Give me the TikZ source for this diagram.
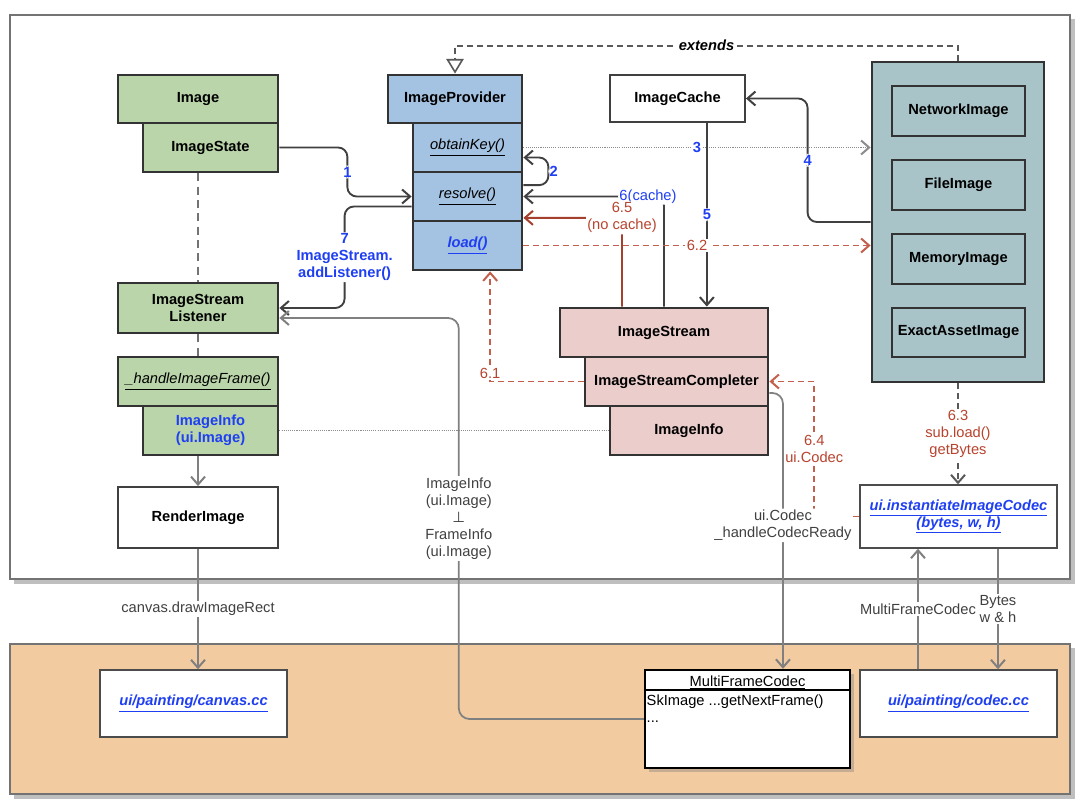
\documentclass[tikz,border=0pt]{standalone}
\usepackage{fontspec}
\setmainfont{Liberation Sans}
\newfontfamily\symfont{DejaVu Sans}
\usetikzlibrary{arrows.meta,positioning,shadows}

\definecolor{imggreen}{HTML}{B9D5A9}
\definecolor{provblue}{HTML}{A4C2E1}
\definecolor{subteal}{HTML}{A8C4C8}
\definecolor{streampink}{HTML}{EBCDCB}
\definecolor{enginepeach}{HTML}{F2CBA1}
\definecolor{stepblue}{HTML}{1F3FF2}
\definecolor{redtext}{HTML}{B8432E}
\definecolor{redarrow}{HTML}{A5402F}

\begin{document}
\begin{tikzpicture}[x=0.75pt, y=-0.75pt,
    >={Straight Barb[length=6pt,width=10.5pt,line width=1.5pt]},
    txt/.style={font=\fontsize{11}{12.8}\selectfont},
    boxsize/.style 2 args={minimum width=#1*0.75pt, minimum height=#2*0.75pt},
    cls/.style={draw=black!80, line width=2.1pt, align=center, inner sep=0pt,
        font=\fontsize{11}{12.8}\selectfont\bfseries},
    method/.style={font=\fontsize{11}{12.8}\selectfont\itshape},
    plain/.style={draw=black!75, line width=1.4pt, fill=white, align=center,
        inner sep=0pt, font=\fontsize{11}{12.8}\selectfont\bfseries},
    linkbox/.style={draw=black!70, line width=1.1pt, fill=white, align=center,
        inner sep=0pt, text=stepblue, font=\fontsize{11}{12.8}\selectfont\bfseries\itshape},
    call/.style={draw=black!75, line width=1.4pt, rounded corners=7pt, ->},
    flow/.style={draw=black!50, line width=1.3pt, ->},
    dotline/.style={draw=black!45, line width=1.3pt, dash pattern=on 0.8pt off 0.8pt},
    lifeline/.style={draw=black!55, line width=1.5pt, dash pattern=on 6pt off 4pt},
    reddash/.style={draw=redtext!85, line width=1.4pt, dash pattern=on 4.5pt off 3pt},
    graydash/.style={draw=black!65, line width=1.4pt, dash pattern=on 4.5pt off 3pt},
    steplbl/.style={txt, fill=white, text=stepblue, font=\fontsize{11}{12.8}\selectfont\bfseries,
        align=center, inner sep=1pt},
    cachelbl/.style={txt, fill=white, text=stepblue, align=center, inner sep=1pt},
    redlbl/.style={txt, fill=white, text=redtext, align=center, inner sep=1pt},
    graylbl/.style={txt, fill=white, text=black!75, align=center, inner sep=1pt}]

    \useasboundingbox (0,0) rectangle (1080,810);

    % the two layers
    \fill[black!25] (14,19) rectangle (1075,584);
    \draw[draw=black!55, line width=1.3pt, fill=white] (10,15) rectangle (1070,579);
    \fill[black!25] (14,648) rectangle (1075,799);
    \draw[draw=black!55, line width=1.3pt, fill=enginepeach] (10,644) rectangle (1070,794);

    % widget side
    \node [cls, fill=imggreen, boxsize={160}{48}] (Image) at (198,99) {Image};
    \node [cls, fill=imggreen, boxsize={135}{49}] (ImageState) at (210.5,147.5) {ImageState};
    \node [cls, fill=imggreen, boxsize={160}{50}] (Listener) at (198,308) {ImageStream\\Listener};
    \node [cls, fill=imggreen, boxsize={160}{49}, method] (HandleFrame) at (198,381.5) {\underline{\_handleImageFrame()}};
    \node [cls, fill=imggreen, boxsize={135}{49}, text=stepblue] (FrameInfo) at (210.5,430.5) {ImageInfo\\(ui.Image)};
    \node [plain, boxsize={160}{61}] (RenderImage) at (198,517.5) {RenderImage};

    % provider
    \node [cls, fill=provblue, boxsize={134}{48}] (ImageProvider) at (455,99) {ImageProvider};
    \node [cls, fill=provblue, boxsize={109}{49}, method] (ObtainKey) at (467.5,147.5) {\underline{obtainKey()}};
    \node [cls, fill=provblue, boxsize={109}{49}, method] (Resolve) at (467.5,196.5) {\underline{resolve()}};
    \node [cls, fill=provblue, boxsize={109}{49}, text=stepblue, font=\fontsize{11}{12.8}\selectfont\bfseries\itshape] (Load) at (467.5,245.5) {\underline{load()}};

    \node [plain, boxsize={135}{47}] (ImageCache) at (677.5,98.5) {ImageCache};

    % sub classes
    \node [cls, fill=subteal, boxsize={172}{320}] (Providers) at (958,222) {};
    \node [cls, fill=subteal, boxsize={133}{50}] (Network) at (958.5,111) {NetworkImage};
    \node [cls, fill=subteal, boxsize={133}{50}] (File) at (958.5,185) {FileImage};
    \node [cls, fill=subteal, boxsize={133}{50}] (Memory) at (958.5,259) {MemoryImage};
    \node [cls, fill=subteal, boxsize={133}{49}] (ExactAsset) at (958.5,332.5) {ExactAssetImage};

    % stream
    \node [cls, fill=streampink, boxsize={208}{49}] (ImageStream) at (664,332.5) {ImageStream};
    \node [cls, fill=streampink, boxsize={183}{49}] (Completer) at (676.5,381.5) {ImageStreamCompleter};
    \node [cls, fill=streampink, boxsize={158}{49}] (StreamInfo) at (689,430.5) {ImageInfo};

    \node [linkbox, boxsize={197}{63}] (Instantiate) at (958.5,516.5) {\underline{ui.instantiateImageCodec}\\\underline{(bytes, w, h)}};

    % engine
    \node [linkbox, boxsize={187}{67}] (CanvasCC) at (193.5,703.5) {\underline{ui/painting/canvas.cc}};
    \node [linkbox, boxsize={197}{67}] (CodecCC) at (958.5,703.5) {\underline{ui/painting/codec.cc}};
    \node [draw=black, line width=1.8pt, fill=white, boxsize={205}{98},
        drop shadow={shadow xshift=3pt, shadow yshift=-3pt, opacity=.4}] (MFC) at (747.5,719) {};
    \draw [line width=1.5pt] ([yshift=-16pt]MFC.north west) -- ([yshift=-16pt]MFC.north east);
    \node [txt, below=1.5pt of MFC.north] (MFCHead) {\underline{MultiFrameCodec}};
    \node [txt, align=left, anchor=north west, inner sep=1pt] (MFCBody) at ([shift={(1pt,-18pt)}]MFC.north west) {SkImage ...getNextFrame()\\...};

    % extends
    \draw [graydash, -{Triangle[open, length=11pt, width=13pt, line width=1.2pt]}] (Providers.north) -- ++(0,-15) -| node[pos=.25, fill=white, inner sep=1pt, font=\fontsize{11}{12.8}\selectfont\bfseries\itshape] {extends} (ImageProvider.north);

    % life lines
    \draw [lifeline] (Image.south |- ImageState.south) -- (Listener.north);
    \draw [lifeline] (Listener.south) -- (HandleFrame.north);
    \draw [flow] (Image.south |- FrameInfo.south) -- (RenderImage.north);
    \draw [dotline] (FrameInfo.east) -- (StreamInfo.west);

    % numbered calls
    \draw [call] (ImageState.east) -- ++(68,0) |- node[steplbl, pos=.25] {1} (Resolve.west);
    \draw [call] ([yshift=8.5pt]Resolve.east) -- ++(25,0) |- node[steplbl, pos=.25, xshift=4pt] {2} ([yshift=-7.5pt]ObtainKey.east);
    \draw [dotline, ->] (ObtainKey.east) -- node[steplbl] {3} (ObtainKey.east -| Providers.west);
    \draw [call] (Providers.west) -- ++(-63,0) |- node[steplbl, pos=.25] {4} (ImageCache.east);
    \draw [call] ([xshift=22pt]ImageCache.south) -- node[steplbl] {5} ([xshift=22pt]ImageCache.south |- ImageStream.north);
    \draw [call] (ImageStream.north) |- node[cachelbl, pos=.5, xshift=-12pt] {6(cache)} (Resolve.east);
    \draw [call, draw=redarrow] ([xshift=-31.5pt]ImageStream.north) |- node[redlbl, pos=.5] {6.5\\(no cache)} ([yshift=-16pt]Resolve.east);
    \draw [reddash, ->] (Completer.west) -| node[redlbl, pos=.5, yshift=6pt] {6.1} ([xshift=17pt]Load.south);
    \draw [reddash, ->] (Load.east) -- node[redlbl] {6.2} (Load.east -| Providers.west);
    \draw [graydash, ->] (Providers.south) -- node[redlbl] {6.3\\sub.load()\\getBytes} (Providers.south |- Instantiate.north);
    \draw [reddash, ->] (Instantiate.west) -- ++(-45,0) |- node[redlbl, pos=.25] {6.4\\ui.Codec} (Completer.east);
    \draw [call] ([yshift=-7.5pt]Resolve.west) -- ++(-67,0) |- node[steplbl, pos=.25] {7\\ImageStream.\\addListener()} (Listener.east);

    % frames and codecs
    \draw [flow, rounded corners=8pt] (MFC.west) -- ++(-185,0) |- node[graylbl, pos=.25] {ImageInfo\\(ui.Image)\\{\symfont ⊥}\\FrameInfo\\(ui.Image)} ([yshift=-7.5pt]Listener.east);
    \draw [flow, rounded corners=8pt] ([yshift=-8.6pt]Completer.east) -| node[graylbl, pos=.74] {ui.Codec\\\_handleCodecReady} ([xshift=26.6pt]MFC.north);
    \draw [flow] (RenderImage.south) -- node[graylbl] {canvas.drawImageRect} (RenderImage.south |- CanvasCC.north);
    \draw [flow] ([xshift=-30.4pt]CodecCC.north) -- node[graylbl] {MultiFrameCodec} ([xshift=-30.4pt]CodecCC.north |- Instantiate.south);
    \draw [flow] ([xshift=29.6pt]Instantiate.south) -- node[graylbl] {Bytes\\w \& h} ([xshift=29.6pt]Instantiate.south |- CodecCC.north);
\end{tikzpicture}
\end{document}
